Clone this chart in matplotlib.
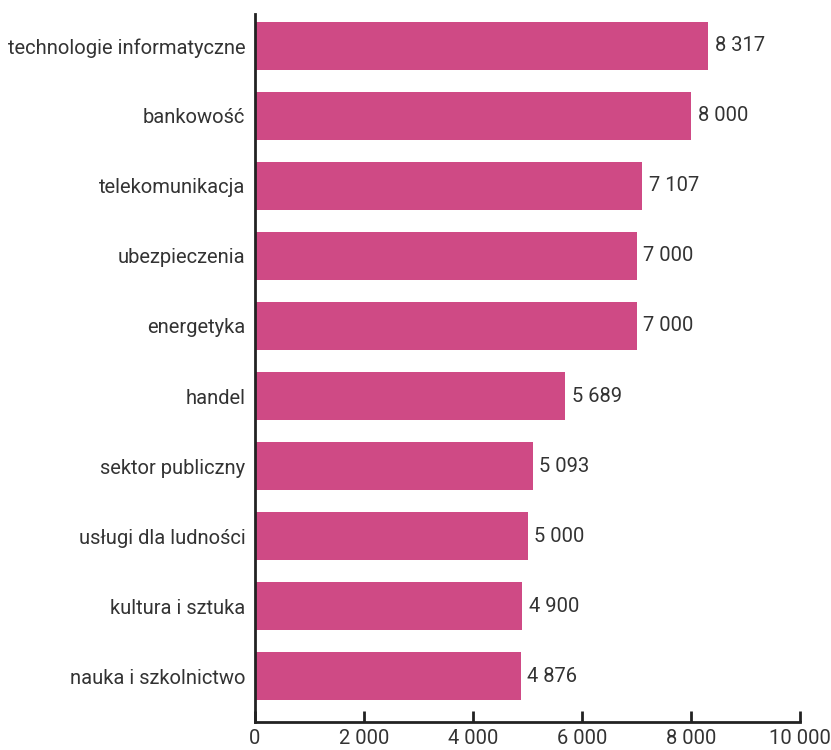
import matplotlib
matplotlib.use('Agg')
import matplotlib.pyplot as plt

plt.rcParams['font.family'] = ['Roboto', 'DejaVu Sans']

categories = ['technologie informatyczne', 'bankowość', 'telekomunikacja',
              'ubezpieczenia', 'energetyka', 'handel', 'sektor publiczny',
              'usługi dla ludności', 'kultura i sztuka', 'nauka i szkolnictwo']
values = [8317, 8000, 7107, 7000, 7000, 5689, 5093, 5000, 4900, 4876]
xticks = [0, 2000, 4000, 6000, 8000, 10000]


def fmt(v):
    return f'{v:,}'.replace(',', ' ')


fig = plt.figure(figsize=(8.31, 7.5), dpi=100)
ax = fig.add_axes([255 / 831, 28 / 750, 545 / 831, 708 / 750])

pos = list(range(len(categories)))
ax.barh(pos, values, height=0.69, color='#CF4A85')
for p, v in zip(pos, values):
    ax.text(v + 120, p, fmt(v), va='center', ha='left', fontsize=14.5, color='#333333')

ax.set_yticks(pos)
ax.set_yticklabels(categories, fontsize=14.5, color='#333333')
ax.tick_params(axis='y', length=0, pad=7)
ax.set_ylim(9.657, -0.457)

ax.set_xlim(0, 10000)
ax.set_xticks(xticks)
ax.set_xticklabels([fmt(t) for t in xticks], fontsize=14.5, color='#333333')
ax.tick_params(axis='x', direction='in', length=8, width=2, color='#222222', pad=5)

for s in ['top', 'right']:
    ax.spines[s].set_visible(False)
for s in ['left', 'bottom']:
    ax.spines[s].set_linewidth(2)
    ax.spines[s].set_color('#222222')

fig.savefig('out.png', dpi=100)
